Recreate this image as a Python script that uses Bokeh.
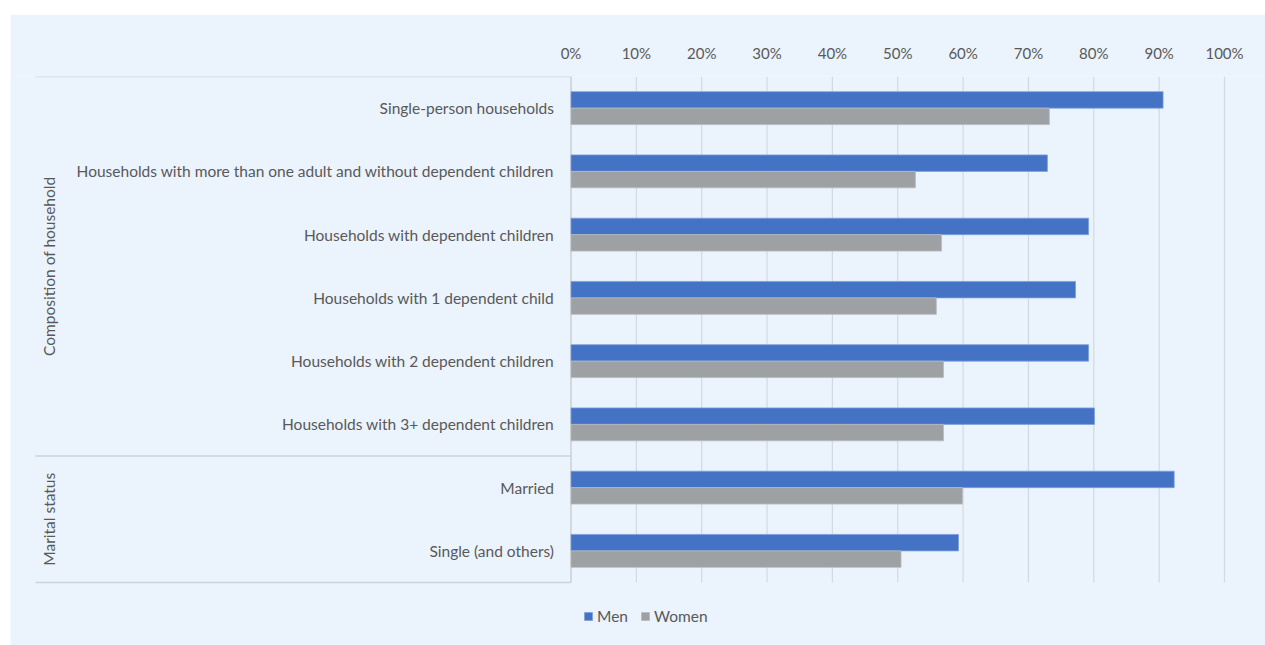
import numpy as np
from bokeh.plotting import figure
from bokeh.models import Range1d, FixedTicker, NumeralTickFormatter, LinearAxis, Legend, LegendItem, ColumnDataSource
from bokeh.core.properties import value
from bokeh.embed import file_html
from bokeh.resources import INLINE

categories = [
    "Single-person households",
    "Households with more than one adult and without dependent children",
    "Households with dependent children",
    "Households with 1 dependent child",
    "Households with 2 dependent children",
    "Households with 3+ dependent children",
    "Married",
    "Single (and others)",
]
groups = ["Composition of household", "Marital status"]
group_sizes = [6, 2]
men = [90.6, 72.9, 79.2, 77.2, 79.2, 80.1, 92.3, 59.3]
women = [73.2, 52.7, 56.7, 55.9, 57.0, 57.0, 59.9, 50.5]
tick_values = [0, 10, 20, 30, 40, 50, 60, 70, 80, 90, 100]

FONT = "Lato"
TXT = "#595959"
BG = "#EBF3FC"
MEN_C = "#4472C4"
WOMEN_C = "#9EA1A4"
GRID_C = "#D3D9E0"

n = len(categories)
px_per_unit = 653.5          # pixels for 100 %
row_px = 63.25               # pixels per category row
x_start = -(570.5 - 10) / px_per_unit
x_end = (1265 - 570.5) / px_per_unit
label_area = -(570.5 - 35) / px_per_unit
y_end = n + 63 / row_px      # frame continues below rows to hold the legend

p = figure(width=1255, height=631, output_backend="svg", toolbar_location=None,
           x_range=Range1d(x_start, x_end), y_range=Range1d(y_end, 0),
           x_axis_location=None, y_axis_location=None,
           min_border_left=0, min_border_right=0, min_border_top=62, min_border_bottom=0)
p.margin = (14, 0, 0, 10)
p.background_fill_color = BG
p.border_fill_color = BG
p.outline_line_color = None
p.xgrid.visible = False
p.ygrid.visible = False

# top axis
ax = LinearAxis(ticker=FixedTicker(ticks=[t / 100 for t in tick_values]),
                formatter=NumeralTickFormatter(format="0%"))
ax.axis_line_color = None
ax.major_tick_line_color = None
ax.minor_tick_line_color = None
ax.major_label_text_font = FONT
ax.major_label_text_font_size = "15px"
ax.major_label_text_color = TXT
ax.major_label_standoff = 9
p.add_layout(ax, "above")

# gridlines (0..100%) only across the category rows
gx = [t / 100 for t in tick_values]
p.segment(x0=gx, x1=gx, y0=[0] * len(gx), y1=[n] * len(gx), line_color=GRID_C, line_width=1.2)

# separator lines in label area
bounds = [0] + list(np.cumsum(group_sizes))
p.segment(x0=[label_area] * len(bounds), x1=[0] * len(bounds), y0=bounds, y1=bounds,
          line_color="#CDD3DA", line_width=1.3)
p.segment(x0=[0], x1=[0], y0=[0], y1=[n], line_color="#CDD3DA", line_width=1.3)

# bars
yc = np.arange(n) + 0.5
h = 0.26
src = ColumnDataSource(dict(ym=yc - h / 2, yw=yc + h / 2,
                            men=[v / 100 for v in men], women=[v / 100 for v in women]))
r_m = p.hbar(y="ym", left=0, right="men", height=h, source=src,
             fill_color=MEN_C, line_color="#7E9FDB", line_width=0.8)
r_w = p.hbar(y="yw", left=0, right="women", height=h, source=src,
             fill_color=WOMEN_C, line_color="#B8BBBE", line_width=0.8)

# category labels
lx = -17 / px_per_unit
p.text(x=[lx] * n, y=list(yc), text=categories, text_align="right", text_baseline="middle",
       text_font=value(FONT), text_font_size="15.5px", text_color=TXT)

# group labels
gcent = [(bounds[i] + bounds[i + 1]) / 2 for i in range(len(groups))]
gxpos = -(570.5 - 48) / px_per_unit
p.text(x=[gxpos] * len(groups), y=gcent, text=groups, angle=np.pi / 2,
       text_align="center", text_baseline="middle",
       text_font=value(FONT), text_font_size="15.5px", text_color=TXT)

legend = Legend(items=[LegendItem(label="Men", renderers=[r_m]),
                       LegendItem(label="Women", renderers=[r_w])],
                orientation="horizontal", location=(573, 20))
legend.background_fill_alpha = 0
legend.border_line_color = None
legend.padding = 0
legend.margin = 0
legend.spacing = 12
legend.glyph_width = 10
legend.glyph_height = 10
legend.label_standoff = 4
legend.label_text_font = FONT
legend.label_text_font_size = "15.5px"
legend.label_text_color = TXT
p.add_layout(legend, "center")

open("out.html", "w").write(file_html(p, INLINE))
